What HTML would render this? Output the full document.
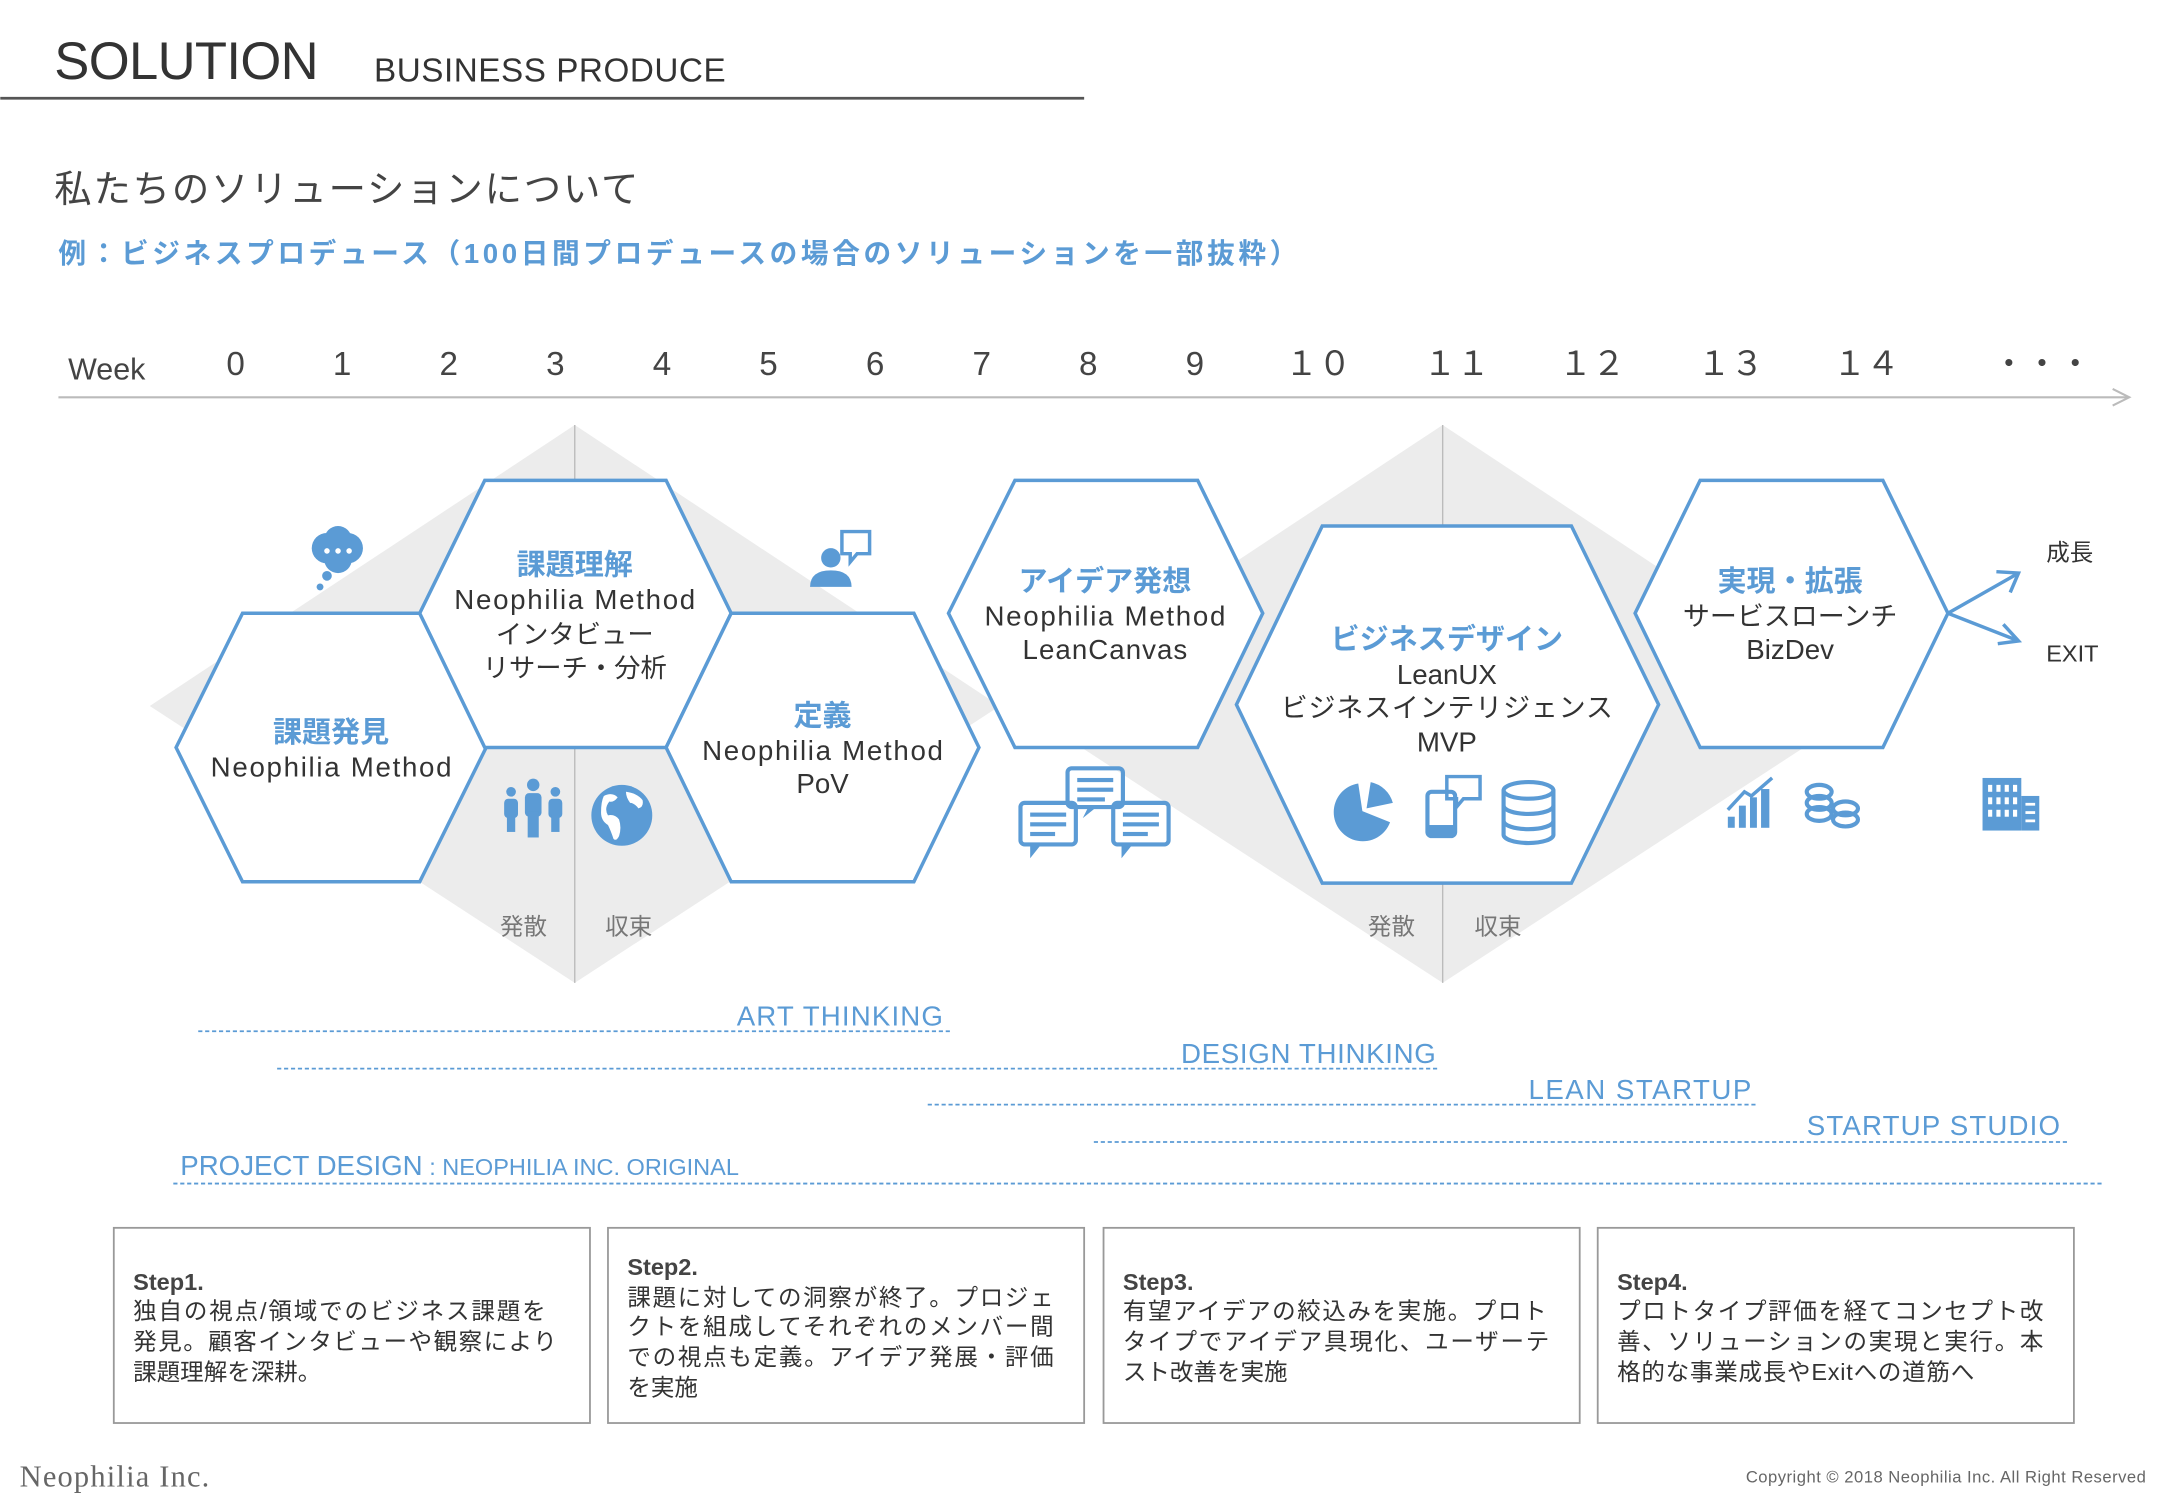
<!DOCTYPE html>
<html><head><meta charset="utf-8"><style>
html,body{margin:0;padding:0;background:#fff;}
svg{display:block;}
text{font-family:"Liberation Sans","Noto Sans CJK JP",sans-serif;}
</style></head><body>
<svg width="2160" height="1495" viewBox="0 0 1560 1080" xmlns="http://www.w3.org/2000/svg">
<!-- header -->
<text x="39" y="57" font-size="38" fill="#333" textLength="191">SOLUTION</text>
<text x="270" y="59" font-size="24" fill="#333" textLength="254">BUSINESS PRODUCE</text>
<line x1="0" y1="71" x2="783" y2="71" stroke="#555" stroke-width="2"/>
<text x="39" y="146" font-size="27" fill="#444" textLength="422">私たちのソリューションについて</text>
<text x="42" y="190" font-size="20" fill="#5b9bd5" font-weight="bold" textLength="895">例：ビジネスプロデュース（100日間プロデュースの場合のソリューションを一部抜粋）</text>

<!-- week axis -->
<g font-size="24" fill="#444">
<text x="49" y="274" font-size="22">Week</text>
<text x="170" y="271" text-anchor="middle">0</text>
<text x="247" y="271" text-anchor="middle">1</text>
<text x="324" y="271" text-anchor="middle">2</text>
<text x="401" y="271" text-anchor="middle">3</text>
<text x="478" y="271" text-anchor="middle">4</text>
<text x="555" y="271" text-anchor="middle">5</text>
<text x="632" y="271" text-anchor="middle">6</text>
<text x="709" y="271" text-anchor="middle">7</text>
<text x="786" y="271" text-anchor="middle">8</text>
<text x="863" y="271" text-anchor="middle">9</text>
<text x="952" y="271" text-anchor="middle">１０</text>
<text x="1052" y="271" text-anchor="middle">１１</text>
<text x="1150" y="271" text-anchor="middle">１２</text>
<text x="1250" y="271" text-anchor="middle">１３</text>
<text x="1348" y="271" text-anchor="middle">１４</text>
<text x="1475" y="271" text-anchor="middle">・・・</text>
</g>
<line x1="42" y1="287" x2="1538" y2="287" stroke="#bbb" stroke-width="1.5"/>
<polyline points="1526,281 1538,287 1526,293" fill="none" stroke="#bbb" stroke-width="1.5"/>

<!-- diamonds -->
<polygon points="415,307 722,510 415,710 108,510" fill="#ececec"/>
<polygon points="1042,307 1349,510 1042,710 735,510" fill="#ececec"/>
<line x1="415" y1="307" x2="415" y2="710" stroke="#bbb" stroke-width="1"/>
<line x1="1042" y1="307" x2="1042" y2="710" stroke="#bbb" stroke-width="1"/>

<!-- hexagons -->
<g fill="#fff" stroke="#5b9bd5" stroke-width="2.5">
<polygon points="175,443 303,443 351,540 303,637 175,637 127,540"/>
<polygon points="350,347 481,347 528,443 481,540 350,540 303,443"/>
<polygon points="528,443 660,443 707,540 660,637 528,637 481,540"/>
<polygon points="733,347 865,347 912,443 865,540 733,540 685,443"/>
<polygon points="955,380 1135,380 1198,509 1135,638 955,638 893,509"/>
<polygon points="1228,347 1360,347 1407,443 1360,540 1228,540 1181,443"/>
</g>

<!-- hex text -->
<g text-anchor="middle" font-size="20" fill="#333">
<text x="239" y="536" fill="#5b9bd5" font-weight="bold" font-size="21">課題発見</text>
<text x="239" y="561" textLength="174">Neophilia Method</text>
<text x="415" y="415" fill="#5b9bd5" font-weight="bold" font-size="21">課題理解</text>
<text x="415" y="440" textLength="174">Neophilia Method</text>
<text x="415" y="465" font-size="19">インタビュー</text>
<text x="415" y="489" font-size="19">リサーチ・分析</text>
<text x="594" y="524" fill="#5b9bd5" font-weight="bold" font-size="21">定義</text>
<text x="594" y="549" textLength="174">Neophilia Method</text>
<text x="594" y="573">PoV</text>
<text x="798" y="427" fill="#5b9bd5" font-weight="bold" font-size="21">アイデア発想</text>
<text x="798" y="452" textLength="174">Neophilia Method</text>
<text x="798" y="476" textLength="119">LeanCanvas</text>
<text x="1045" y="469" fill="#5b9bd5" font-weight="bold" font-size="21">ビジネスデザイン</text>
<text x="1045" y="494">LeanUX</text>
<text x="1045" y="518" font-size="19.5" textLength="240">ビジネスインテリジェンス</text>
<text x="1045" y="543">MVP</text>
<text x="1293" y="427" fill="#5b9bd5" font-weight="bold" font-size="21">実現・拡張</text>
<text x="1293" y="452" font-size="19.5">サービスローンチ</text>
<text x="1293" y="476">BizDev</text>
</g>

<g font-size="17" fill="#777" text-anchor="middle">
<text x="378" y="675">発散</text><text x="454" y="675">収束</text>
<text x="1005" y="675">発散</text><text x="1082" y="675">収束</text>
</g>

<!-- growth arrows -->
<g stroke="#5b9bd5" stroke-width="2.5" fill="none">
<line x1="1407" y1="443" x2="1458" y2="414"/>
<polyline points="1442,413 1458,414 1452,428"/>
<line x1="1407" y1="443" x2="1458" y2="463"/>
<polyline points="1447,451 1458,463 1443,465"/>
</g>
<text x="1478" y="405" font-size="17" fill="#333">成長</text>
<text x="1478" y="478" font-size="17" fill="#333">EXIT</text>

<!-- icons -->
<g fill="#5b9bd5">
<circle cx="236" cy="396" r="11"/><circle cx="251" cy="396" r="11"/><circle cx="244" cy="390" r="10"/><circle cx="244" cy="404" r="10"/>
<circle cx="236" cy="416" r="3.5"/><circle cx="231" cy="424" r="2.5"/>
<circle cx="236" cy="398" r="2" fill="#fff"/><circle cx="244" cy="398" r="2" fill="#fff"/><circle cx="252" cy="398" r="2" fill="#fff"/>
<circle cx="600" cy="403" r="7"/>
<path d="M585,424 q0,-12 15,-12 q15,0 15,12 z"/>
<path d="M608,384 h20 v16 h-9 l-5,6 v-6 h-6 z" fill="none" stroke="#5b9bd5" stroke-width="2.5"/>
<circle cx="385" cy="567" r="4.5"/><rect x="379" y="573" width="12" height="17" rx="3"/><rect x="381" y="586" width="8" height="19"/>
<circle cx="369" cy="572" r="3.5"/><rect x="364" y="577" width="10" height="14" rx="3"/><rect x="366" y="588" width="6" height="13"/>
<circle cx="401" cy="572" r="3.5"/><rect x="396" y="577" width="10" height="14" rx="3"/><rect x="398" y="588" width="6" height="13"/>
<circle cx="449" cy="589" r="22"/>
<path d="M436,575 q6,-3 10,1 q-3,4 -6,3 q-4,5 -1,10 q5,-1 8,3 q2,6 0,12 q-2,4 -4,2 q-2,-6 -4,-10 q-5,-3 -5,-9 q0,-8 2,-12 z M452,572 q8,1 12,6 q1,5 -3,6 q-3,-4 -6,-4 q-3,-4 -3,-8 z" fill="#fff"/>
<g fill="none" stroke="#5b9bd5" stroke-width="3">
<rect x="771" y="555" width="40" height="28" rx="3"/>
<rect x="737" y="580" width="40" height="30" rx="3"/>
<rect x="804" y="580" width="40" height="30" rx="3"/>
</g>
<path d="M744,610 l0,10 l8,-10z M810,610 l0,10 l8,-10z M786,583 l-4,8 l10,-8z"/>
<rect x="778" y="562" width="26" height="3"/><rect x="778" y="569" width="26" height="3"/><rect x="778" y="576" width="20" height="3"/>
<rect x="744" y="587" width="26" height="3"/><rect x="744" y="594" width="26" height="3"/><rect x="744" y="601" width="18" height="3"/>
<rect x="811" y="587" width="26" height="3"/><rect x="811" y="594" width="26" height="3"/><rect x="811" y="601" width="18" height="3"/>
<path d="M984,586 L981,566 A21,21 0 1 0 1004,594 Z"/>
<path d="M987,584 L990,565 A21,21 0 0 1 1006,580 Z"/>
<rect x="1031" y="572" width="20" height="32" rx="3" fill="none" stroke="#5b9bd5" stroke-width="3"/>
<rect x="1031" y="596" width="20" height="8"/>
<path d="M1045,561 h24 v16 h-12 l-5,6 v-6 h-7 z" fill="none" stroke="#5b9bd5" stroke-width="2.5"/>
<g fill="none" stroke="#5b9bd5" stroke-width="3">
<ellipse cx="1104" cy="571" rx="18" ry="6"/>
<path d="M1086,571 v32 a18,6 0 0 0 36,0 v-32"/>
<path d="M1086,582 a18,6 0 0 0 36,0 M1086,593 a18,6 0 0 0 36,0"/>
</g>
<rect x="1248" y="590" width="5" height="8"/><rect x="1256" y="582" width="5" height="16"/><rect x="1264" y="576" width="5" height="22"/><rect x="1272" y="570" width="6" height="28"/>
<polyline points="1248,585 1260,572 1265,575 1280,562" fill="none" stroke="#5b9bd5" stroke-width="2.5"/>
<g fill="none" stroke="#5b9bd5" stroke-width="3">
<ellipse cx="1314" cy="572" rx="9" ry="5"/><ellipse cx="1314" cy="580" rx="9" ry="5"/><ellipse cx="1314" cy="588" rx="9" ry="5"/>
<ellipse cx="1333" cy="584" rx="9" ry="5"/><ellipse cx="1333" cy="592" rx="9" ry="5"/>
</g>
<rect x="1432" y="562" width="28" height="38"/><rect x="1460" y="575" width="13" height="25"/>
<g fill="#fff">
<rect x="1436" y="567" width="3" height="5"/><rect x="1442" y="567" width="3" height="5"/><rect x="1448" y="567" width="3" height="5"/><rect x="1454" y="567" width="3" height="5"/>
<rect x="1436" y="576" width="3" height="5"/><rect x="1442" y="576" width="3" height="5"/><rect x="1448" y="576" width="3" height="5"/><rect x="1454" y="576" width="3" height="5"/>
<rect x="1436" y="585" width="3" height="5"/><rect x="1442" y="585" width="3" height="5"/><rect x="1448" y="585" width="3" height="5"/><rect x="1454" y="585" width="3" height="5"/>
<rect x="1463" y="580" width="7" height="2"/><rect x="1463" y="586" width="7" height="2"/><rect x="1463" y="592" width="7" height="2"/>
</g>
</g>

<!-- thinking lines -->
<g stroke="#5b9bd5" stroke-width="1.3" stroke-dasharray="3,2" fill="none">
<line x1="143" y1="745" x2="687" y2="745"/>
<line x1="200" y1="772" x2="1040" y2="772"/>
<line x1="670" y1="798" x2="1270" y2="798"/>
<line x1="790" y1="825" x2="1495" y2="825"/>
<line x1="125" y1="855" x2="1520" y2="855"/>
</g>
<g fill="#5b9bd5" font-size="20" text-anchor="end">
<text x="681" y="741" textLength="149">ART THINKING</text>
<text x="1037" y="768" textLength="184">DESIGN THINKING</text>
<text x="1265" y="794" textLength="161">LEAN STARTUP</text>
<text x="1488" y="820" textLength="183">STARTUP STUDIO</text>
</g>
<text x="130" y="849" fill="#5b9bd5" font-size="20">PROJECT DESIGN<tspan font-size="17"> : NEOPHILIA INC. ORIGINAL</tspan></text>

<!-- step boxes -->
<g fill="#fff" stroke="#999" stroke-width="1.3">
<rect x="82" y="887" width="344" height="141"/>
<rect x="439" y="887" width="344" height="141"/>
<rect x="797" y="887" width="344" height="141"/>
<rect x="1154" y="887" width="344" height="141"/>
</g>
<g font-size="17" fill="#333">
<text x="96" y="932" font-weight="bold" fill="#444">Step1.</text>
<text x="96" y="953" textLength="298">独自の視点/領域でのビジネス課題を</text>
<text x="96" y="975" textLength="306">発見。顧客インタビューや観察により</text>
<text x="96" y="997">課題理解を深耕。</text>
<text x="453" y="921" font-weight="bold" fill="#444">Step2.</text>
<text x="453" y="943" textLength="308">課題に対しての洞察が終了。プロジェ</text>
<text x="453" y="964" textLength="308">クトを組成してそれぞれのメンバー間</text>
<text x="453" y="986" textLength="308">での視点も定義。アイデア発展・評価</text>
<text x="453" y="1008">を実施</text>
<text x="811" y="932" font-weight="bold" fill="#444">Step3.</text>
<text x="811" y="953" textLength="306">有望アイデアの絞込みを実施。プロト</text>
<text x="811" y="975" textLength="308">タイプでアイデア具現化、ユーザーテ</text>
<text x="811" y="997">スト改善を実施</text>
<text x="1168" y="932" font-weight="bold" fill="#444">Step4.</text>
<text x="1168" y="953" textLength="308">プロトタイプ評価を経てコンセプト改</text>
<text x="1168" y="975" textLength="308">善、ソリューションの実現と実行。本</text>
<text x="1168" y="997" textLength="258">格的な事業成長やExitへの道筋へ</text>
</g>

<!-- footer -->
<text x="14" y="1074" font-size="22" fill="#666" textLength="137" style="font-family:'Liberation Serif',serif">Neophilia Inc.</text>
<text x="1550" y="1071" font-size="12" fill="#666" text-anchor="end" textLength="289">Copyright © 2018 Neophilia Inc. All Right Reserved</text>
</svg>
</body></html>
